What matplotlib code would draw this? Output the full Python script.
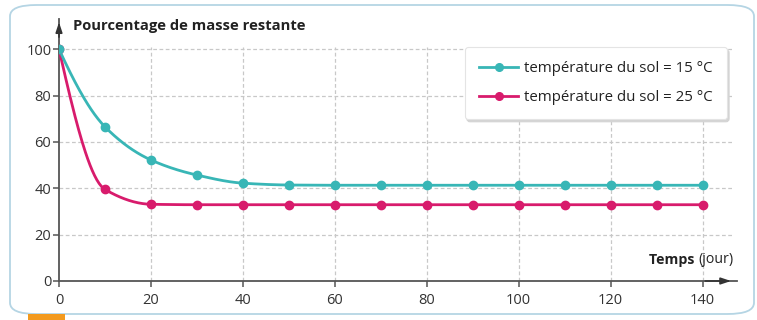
import numpy as np
import matplotlib
matplotlib.use("Agg")
import matplotlib.pyplot as plt
from matplotlib.patches import FancyBboxPatch, Rectangle
from matplotlib.lines import Line2D
from matplotlib.transforms import offset_copy

plt.rcParams['font.family'] = ['Open Sans', 'DejaVu Sans']

days = [0, 10, 20, 30, 40, 50, 60, 70, 80, 90, 100, 110, 120, 130, 140]
mass_15 = [100, 66.5, 52.2, 45.7, 42.2, 41.4, 41.3, 41.3, 41.3, 41.3, 41.3, 41.3, 41.3, 41.3, 41.3]
mass_25 = [100, 39.5, 33.1, 32.9, 32.9, 32.9, 32.9, 32.9, 32.9, 32.9, 32.9, 32.9, 32.9, 32.9, 32.9]
labels = ["température du sol = 15 °C", "température du sol = 25 °C"]
xticks = [0, 20, 40, 60, 80, 100, 120, 140]
yticks = [0, 20, 40, 60, 80, 100]
ylabel = "Pourcentage de masse restante"

c15 = "#38b6b6"
c25 = "#d81b6c"


def smooth(x, y, n=40):
    """Shape-preserving cubic (PCHIP) rendering of the polyline."""
    x = np.asarray(x, float); y = np.asarray(y, float)
    h = np.diff(x); d = np.diff(y) / h
    m = np.zeros_like(y)
    for i in range(1, len(x) - 1):
        if d[i - 1] * d[i] <= 0:
            m[i] = 0
        else:
            w1 = 2 * h[i] + h[i - 1]; w2 = h[i] + 2 * h[i - 1]
            m[i] = (w1 + w2) / (w1 / d[i - 1] + w2 / d[i])

    def edge(h0, h1, d0, d1):
        s = ((2 * h0 + h1) * d0 - h0 * d1) / (h0 + h1)
        if np.sign(s) != np.sign(d0):
            s = 0
        elif np.sign(d0) != np.sign(d1) and abs(s) > abs(3 * d0):
            s = 3 * d0
        return s
    m[0] = edge(h[0], h[1], d[0], d[1])
    m[-1] = edge(h[-1], h[-2], d[-1], d[-2])
    xs, ys = [], []
    for i in range(len(x) - 1):
        t = np.linspace(0, 1, n, endpoint=False)
        h00 = 2 * t**3 - 3 * t**2 + 1; h10 = t**3 - 2 * t**2 + t
        h01 = -2 * t**3 + 3 * t**2; h11 = t**3 - t**2
        xs.append(x[i] + t * h[i])
        ys.append(h00 * y[i] + h10 * h[i] * m[i] + h01 * y[i + 1] + h11 * h[i] * m[i + 1])
    xs.append([x[-1]]); ys.append([y[-1]])
    return np.concatenate(xs), np.concatenate(ys)


fig = plt.figure(figsize=(7.57, 3.2), dpi=100)
fig.patch.set_facecolor("white")

frame = FancyBboxPatch((10 / 757, 6 / 320), 744 / 757, 309 / 320,
                       boxstyle="round,pad=0,rounding_size=0.035",
                       transform=fig.transFigure, facecolor="none",
                       edgecolor="#b5d5e4", linewidth=1.3, zorder=-1)
fig.patches.append(frame)
fig.patches.append(Rectangle((28 / 757, 0), 37 / 757, 6 / 320, transform=fig.transFigure,
                             facecolor="#f39a1e", edgecolor="none", zorder=-1))

ax = fig.add_axes([59 / 757, 39 / 320, 678 / 757, 262 / 320])
ax.set_zorder(2)
ax.set_facecolor("none")
ax.set_xlim(0, 147.5)
ax.set_ylim(0, 113)

for v in yticks[1:]:
    ax.axhline(v, xmax=146.5 / 147.5, color="#c8c8c8", lw=0.9, ls=(0, (3, 2)), zorder=1)
for v in xticks[1:]:
    ax.axvline(v, ymax=100 / 113 + 0.01, color="#c8c8c8", lw=0.9, ls=(0, (3, 2)), zorder=1)

xs, ys = smooth(days, mass_25)
ax.plot(xs, ys, color=c25, lw=2, zorder=3)
ax.plot(days, mass_25, 'o', color=c25, ms=6, zorder=4)
xs, ys = smooth(days, mass_15)
ax.plot(xs, ys, color=c15, lw=2, zorder=3)
ax.plot(days, mass_15, 'o', color=c15, ms=6, zorder=4)

for s in ["top", "right"]:
    ax.spines[s].set_visible(False)
for s in ["left", "bottom"]:
    ax.spines[s].set_color("#555555")
    ax.spines[s].set_linewidth(1.3)

ax.set_xticks(xticks)
ax.set_yticks(yticks)
ax.tick_params(axis="both", colors="#555555", labelcolor="#333333", labelsize=10.5, length=4.5, width=1.1)
ax.tick_params(axis="x", pad=4)
ax.tick_params(axis="y", pad=1)

ax.annotate("", xy=(146.8, 0), xytext=(140, 0), xycoords="data",
            arrowprops=dict(arrowstyle="-|>,head_length=0.6,head_width=0.2", color="#333333", lw=1.2),
            annotation_clip=False)
ax.annotate("", xy=(0, 112.8), xytext=(0, 104),
            arrowprops=dict(arrowstyle="-|>,head_length=0.6,head_width=0.2", color="#333333", lw=1.2),
            annotation_clip=False)

ax.text(3.0, 109.8, ylabel, fontsize=10.6, fontweight="bold", color="#222222",
        ha="left", va="center", clip_on=False)

t_unit = ax.text(146.7, 9.2, "(jour)", fontsize=10.2, color="#222222", ha="right", va="center")
fig.canvas.draw()
w = t_unit.get_window_extent().width * 72 / fig.dpi
ax.text(146.7, 9.2, "Temps ", fontsize=10.2, fontweight="bold", color="#222222", ha="right", va="center",
        transform=offset_copy(ax.transData, fig=fig, x=-w, y=0, units="points"))

handles = [Line2D([], [], color=c15, lw=2, marker='o', ms=5.5),
           Line2D([], [], color=c25, lw=2, marker='o', ms=5.5)]
leg = ax.legend(handles, labels, loc="upper right", bbox_to_anchor=(668 / 678, 234 / 262),
                fontsize=10.8, frameon=True, fancybox=True,
                shadow={"color": "#d4d4d4", "alpha": 1, "ox": 1.5, "oy": -2},
                borderpad=0.95, labelspacing=0.9, handlelength=2.6, handletextpad=0.4,
                borderaxespad=0, framealpha=1)
leg.get_frame().set_edgecolor("#e4e4e4")
leg.get_frame().set_linewidth(0.8)
for txt in leg.get_texts():
    txt.set_color("#222222")

fig.savefig("out.png", dpi=100)
